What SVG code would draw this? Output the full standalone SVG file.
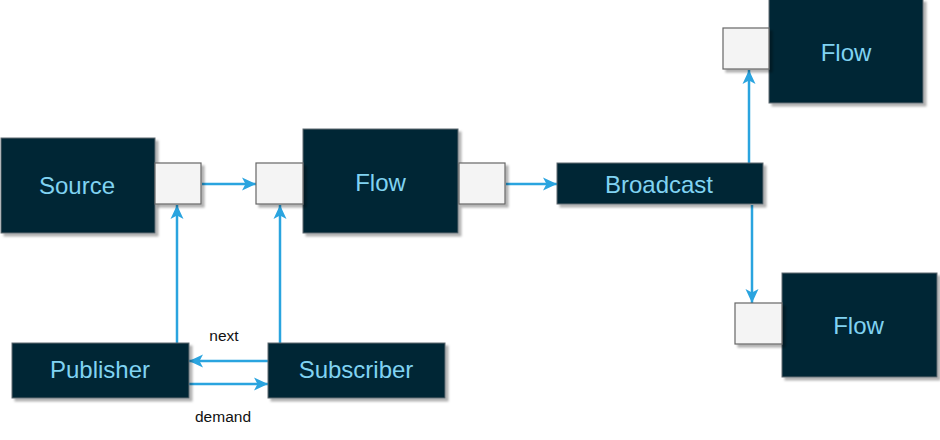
<svg xmlns="http://www.w3.org/2000/svg" width="940" height="440" viewBox="0 0 940 440">
  <defs>
    <filter id="sh" x="-10%" y="-10%" width="130%" height="140%">
      <feDropShadow dx="3" dy="3" stdDeviation="0.8" flood-color="#000" flood-opacity="0.3"/>
    </filter>
    <marker id="arr" markerUnits="userSpaceOnUse" markerWidth="16" markerHeight="16" refX="15" refY="8" orient="auto">
      <path d="M1,1.5 L15,8 L1,14.5 L4.5,8 Z" fill="#2aa4df"/>
    </marker>
  </defs>
  <style>
    .box { fill: #022835; stroke: #5f6a70; stroke-width: 1; filter: url(#sh); }
    .port { fill: #f4f4f4; stroke: #666666; stroke-width: 1.2; filter: url(#sh); }
    .lbl { font-family: "Liberation Sans", Arial, sans-serif; font-size: 24px; fill: #80d3f2; text-anchor: middle; }
    .edge { stroke: #2aa4df; stroke-width: 2.5; fill: none; }
    .elbl { font-family: "Liberation Sans", Arial, sans-serif; font-size: 15.5px; fill: #111; text-anchor: middle; }
  </style>
  <rect width="940" height="440" fill="#ffffff"/>

  <g id="connectors">
    <line class="edge" x1="202" y1="184" x2="256" y2="184" marker-end="url(#arr)"/>
    <line class="edge" x1="506" y1="184" x2="557" y2="184" marker-end="url(#arr)"/>
    <line class="edge" x1="749" y1="163" x2="749" y2="70" marker-end="url(#arr)"/>
    <line class="edge" x1="752" y1="205" x2="752" y2="303" marker-end="url(#arr)"/>
    <line class="edge" x1="177" y1="343" x2="177" y2="205" marker-end="url(#arr)"/>
    <line class="edge" x1="280" y1="343" x2="280" y2="205" marker-end="url(#arr)"/>
    <line class="edge" x1="268" y1="361" x2="189" y2="361" marker-end="url(#arr)"/>
    <line class="edge" x1="189" y1="384" x2="268" y2="384" marker-end="url(#arr)"/>
    <text class="elbl" x="224" y="341">next</text>
    <text class="elbl" x="223" y="422">demand</text>
  </g>

  <g id="source">
    <rect class="box" x="1" y="138" width="154" height="95"/>
    <text class="lbl" x="77" y="194">Source</text>
  </g>
  <g id="source-port">
    <rect class="port" x="155" y="163" width="46" height="41"/>
  </g>

  <g id="flow">
    <rect class="box" x="303" y="129" width="155" height="104"/>
    <text class="lbl" x="380.5" y="191">Flow</text>
  </g>
  <g id="flow-in-port">
    <rect class="port" x="256" y="163" width="47" height="41"/>
  </g>
  <g id="flow-out-port">
    <rect class="port" x="459" y="163" width="46" height="41"/>
  </g>

  <g id="broadcast">
    <rect class="box" x="557" y="163" width="206" height="41"/>
    <text class="lbl" x="659" y="193">Broadcast</text>
  </g>

  <g id="flow-top">
    <rect class="box" x="769" y="-1" width="154" height="104"/>
    <text class="lbl" x="846" y="61">Flow</text>
  </g>
  <g id="flow-top-port">
    <rect class="port" x="723" y="28" width="46" height="41"/>
  </g>

  <g id="flow-bottom">
    <rect class="box" x="782" y="273" width="155" height="104"/>
    <text class="lbl" x="858.5" y="334">Flow</text>
  </g>
  <g id="flow-bottom-port">
    <rect class="port" x="735" y="303" width="47" height="41"/>
  </g>

  <g id="publisher">
    <rect class="box" x="12" y="343" width="177" height="55"/>
    <text class="lbl" x="100" y="378">Publisher</text>
  </g>

  <g id="subscriber">
    <rect class="box" x="268" y="343" width="177" height="55"/>
    <text class="lbl" x="356" y="378">Subscriber</text>
  </g>
</svg>
